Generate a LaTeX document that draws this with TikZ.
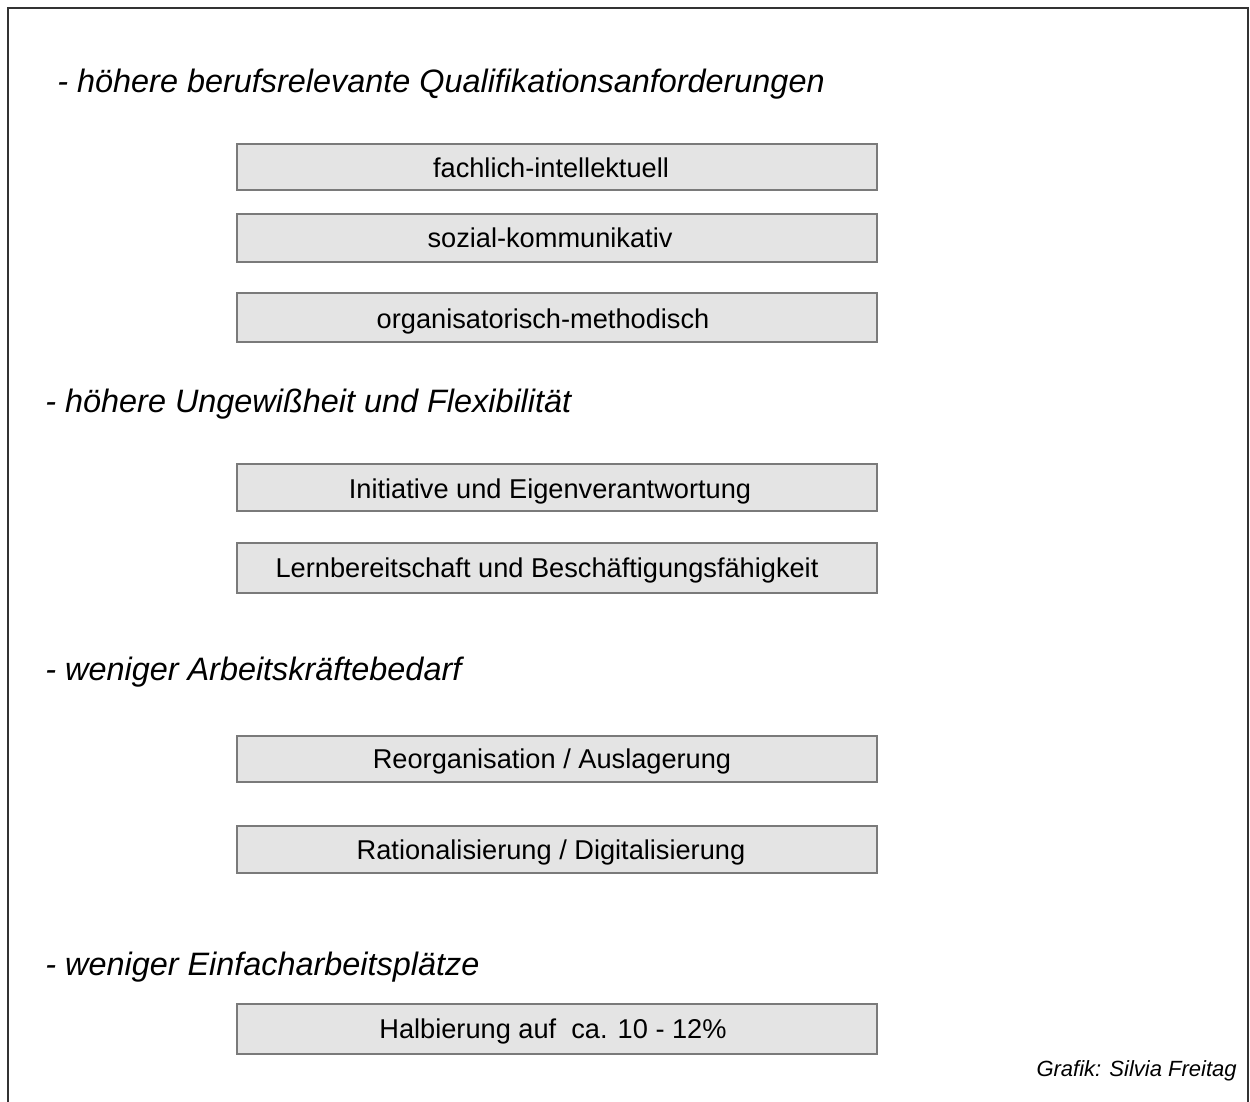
\documentclass[tikz,border=0pt]{standalone}
\usepackage{fontspec}
\setmainfont{Liberation Sans}
\definecolor{boxfill}{HTML}{E4E4E4}
\definecolor{boxline}{HTML}{7A7A7A}
\definecolor{frameline}{HTML}{333333}
\begin{document}
\begin{tikzpicture}[x=0.5pt,y=-0.5pt,
  bx/.style={draw=boxline, fill=boxfill, line width=0.75pt, rectangle, minimum width=320pt, inner sep=0pt},
  bt/.style={font=\fontsize{13.6}{16}\selectfont, inner sep=0pt, text height=0.72em, text depth=0pt, anchor=center},
  hd/.style={font=\fontsize{16.2}{19}\selectfont\itshape, inner sep=0pt, anchor=base west},
  cr/.style={font=\fontsize{11}{13}\selectfont\itshape, inner sep=0pt, anchor=base east}]
\useasboundingbox (0,0) rectangle (1250,1102);
\draw[frameline, line width=1pt] (8,1110) -- (8,8) -- (1248,8) -- (1248,1110);

\node[hd] (h1) at (57,93) {- höhere berufsrelevante Qualifikationsanforderungen};
\node[bx, minimum height=23pt] (b1) at (557,167) {};
\node[bx, minimum height=24pt] (b2) at (557,238) {};
\node[bx, minimum height=24.5pt] (b3) at (557,317.5) {};

\node[hd] (h2) at (45,413) {- höhere Ungewißheit und Flexibilität};
\node[bx, minimum height=23.5pt] (b4) at (557,487.5) {};
\node[bx, minimum height=25pt] (b5) at (557,568) {};

\node[hd] (h3) at (45,680) {- weniger Arbeitskräftebedarf};
\node[bx, minimum height=23pt] (b6) at (557,759) {};
\node[bx, minimum height=23.5pt] (b7) at (557,849.5) {};

\node[hd] (h4) at (45,975) {- weniger Einfacharbeitsplätze};
\node[bx, minimum height=25pt] (b8) at (557,1029) {};

\node[bt] (t1) at ([xshift=-3pt,yshift=-1.8pt]b1.center) {fachlich-intellektuell};
\node[bt] (t2) at ([xshift=-3.5pt,yshift=-1.2pt]b2.center) {sozial-kommunikativ};
\node[bt] (t3) at ([xshift=-7pt,yshift=-1.8pt]b3.center) {organisatorisch-methodisch};
\node[bt] (t4) at ([xshift=-3.5pt,yshift=-1.8pt]b4.center) {Initiative und Eigenverantwortung};
\node[bt] (t5) at ([xshift=-5pt,yshift=-1.2pt]b5.center) {Lernbereitschaft und Beschäftigungsfähigkeit};
\node[bt] (t6) at ([xshift=-2.5pt,yshift=-1.2pt]b6.center) {Reorganisation / Auslagerung};
\node[bt] (t7) at ([xshift=-3pt,yshift=-1.5pt]b7.center) {Rationalisierung / Digitalisierung};
\node[bt] (t8) at ([xshift=-2pt,yshift=-1.2pt]b8.center) {Halbierung auf\ \ ca. 10 - 12\%};

\node[cr] (c) at (1237,1076) {Grafik: Silvia Freitag};
\end{tikzpicture}
\end{document}
